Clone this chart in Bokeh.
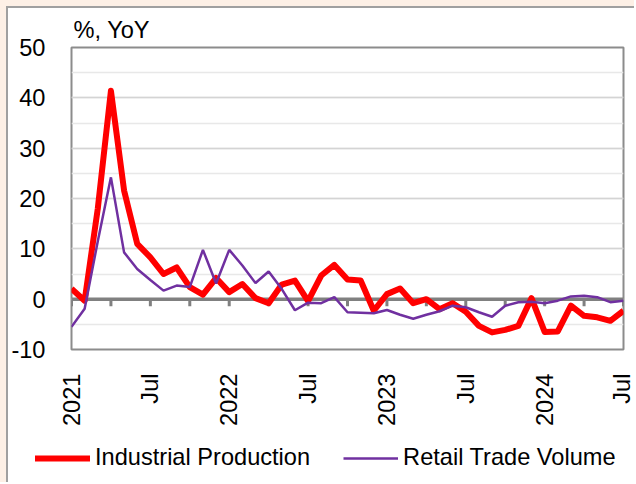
import math
from bokeh.plotting import figure
from bokeh.layouts import column, row
from bokeh.models import (Range1d, FixedTicker, SingleIntervalTicker, Legend, LegendItem,
                          ColumnDataSource, PrintfTickFormatter)
from bokeh.embed import file_html
from bokeh.resources import INLINE

# Monthly data, Jan 2021 .. Jul 2024 (index 0..42)
month_index = list(range(43))
industrial_production = [
    2.1, -0.3, 18.0, 41.4, 21.6, 11.0, 8.3, 5.0, 6.3, 2.4, 0.9, 4.2,
    1.4, 3.0, 0.2, -0.8, 2.9, 3.7, -0.4, 4.7, 6.8, 3.9, 3.7, -2.3,
    1.0, 2.1, -0.8, 0.0, -2.0, -0.8, -2.5, -5.3, -6.6, -6.1, -5.3, 0.2,
    -6.5, -6.4, -1.3, -3.3, -3.6, -4.3, -2.3,
]
retail_trade_volume = [
    -5.5, -1.9, 11.5, 24.2, 9.3, 6.0, 3.8, 1.7, 2.7, 2.4, 9.8, 3.1,
    9.8, 6.7, 3.2, 5.5, 2.0, -2.2, -0.7, -0.8, 0.4, -2.6, -2.7, -2.8,
    -2.15, -3.1, -3.9, -3.1, -2.4, -1.3, -1.6, -2.6, -3.5, -1.3, -0.6, -0.5,
    -0.8, -0.3, 0.55, 0.7, 0.4, -0.6, -0.3,
]
x_label_positions = [0, 6, 12, 18, 24, 30, 36, 42]
x_label_texts = ["2021", "Jul", "2022", "Jul", "2023", "Jul", "2024", "Jul"]
series_names = ["Industrial Production", "Retail Trade Volume"]

FONT = "Liberation Sans"
FS = "23.6px"

p = figure(width=626, height=422, output_backend="svg", toolbar_location=None,
           x_range=Range1d(0, 42), y_range=Range1d(-10, 50),
           min_border_left=62, min_border_right=11, min_border_top=39,
           min_border_bottom=81, background_fill_color="white",
           border_fill_color="white")

p.title.text = "%, YoY"
p.title.align = "left"
p.title.offset = 2
p.title.text_font = FONT
p.title.text_font_size = FS
p.title.text_font_style = "normal"
p.title.text_color = "black"
p.title.standoff = 10

p.outline_line_color = "#8c8c8c"
p.outline_line_width = 2

# grid
p.xgrid.grid_line_color = None
p.yaxis.ticker = SingleIntervalTicker(interval=10, num_minor_ticks=2)
p.yaxis.formatter = PrintfTickFormatter(format="%d")
p.ygrid.grid_line_color = "#d4d4d4"
p.ygrid.grid_line_width = 1.5
p.ygrid.minor_grid_line_color = "#e8e8e8"
p.ygrid.minor_grid_line_width = 1.5

# y axis
p.yaxis.axis_line_color = None
p.yaxis.major_tick_line_color = None
p.yaxis.minor_tick_line_color = None
p.yaxis.major_label_standoff = 20
p.yaxis.major_label_text_font = FONT
p.yaxis.major_label_text_font_size = FS
p.yaxis.major_label_text_color = "black"

# x axis (labels only, rotated)
p.xaxis.ticker = FixedTicker(ticks=x_label_positions)
p.xaxis.major_label_overrides = {k: v for k, v in zip(x_label_positions, x_label_texts)}
p.xaxis.major_label_orientation = math.pi / 2
p.xaxis.axis_line_color = None
p.xaxis.major_tick_line_color = None
p.xaxis.minor_tick_line_color = None
p.xaxis.major_label_standoff = 18
p.xaxis.major_label_text_font = FONT
p.xaxis.major_label_text_font_size = FS
p.xaxis.major_label_text_color = "black"

# zero line with quarterly tick marks
p.segment(x0=[month_index[0]], y0=[0], x1=[month_index[-1]], y1=[0],
          line_color="#808080", line_width=3.5)
qticks = month_index[::3]
p.segment(x0=qticks, y0=[0] * len(qticks), x1=qticks, y1=[-1.4] * len(qticks),
          line_color="#808080", line_width=3)

src = ColumnDataSource(dict(x=month_index, ip=industrial_production, rt=retail_trade_volume))
p.line("x", "ip", source=src, line_color="#FF0000", line_width=6, line_join="round")
p.line("x", "rt", source=src, line_color="#7030A0", line_width=2.5)

# legend strip below the chart (its own figure; sample lines lie outside its ranges)
lg = figure(width=626, height=52, output_backend="svg", toolbar_location=None,
            x_axis_type=None, y_axis_type=None, min_border=0,
            min_border_left=0, min_border_right=0, min_border_top=0, min_border_bottom=0,
            x_range=Range1d(0, 1), y_range=Range1d(0, 1),
            background_fill_color="white", border_fill_color="white")
lg.outline_line_color = None
lg.grid.visible = False
hidden = ColumnDataSource(dict(x=[5, 6], y=[5, 5]))
l1 = lg.line("x", "y", source=hidden, line_color="#FF0000", line_width=6, line_cap="round")
l2 = lg.line("x", "y", source=hidden, line_color="#7030A0", line_width=2.5)
legend = Legend(items=[LegendItem(label=series_names[0], renderers=[l1]),
                       LegendItem(label=series_names[1], renderers=[l2])],
                orientation="horizontal", location=(27, 11),
                glyph_width=55, glyph_height=24, label_standoff=5, spacing=33,
                padding=0, margin=0, border_line_color=None,
                background_fill_alpha=0,
                label_text_font=FONT, label_text_font_size=FS,
                label_text_color="black", label_height=24)
lg.add_layout(legend)

inner = column(p, row(lg, spacing=0), spacing=0,
               styles={"background-color": "white",
                       "border-left": "2px solid #a0a0a0",
                       "border-top": "2px solid #a0a0a0"})
outer = column(inner, spacing=0,
               styles={"background-color": "#FDF0E6",
                       "padding-left": "6px", "padding-top": "6px"})
open("out.html", "w").write(file_html(outer, INLINE))
